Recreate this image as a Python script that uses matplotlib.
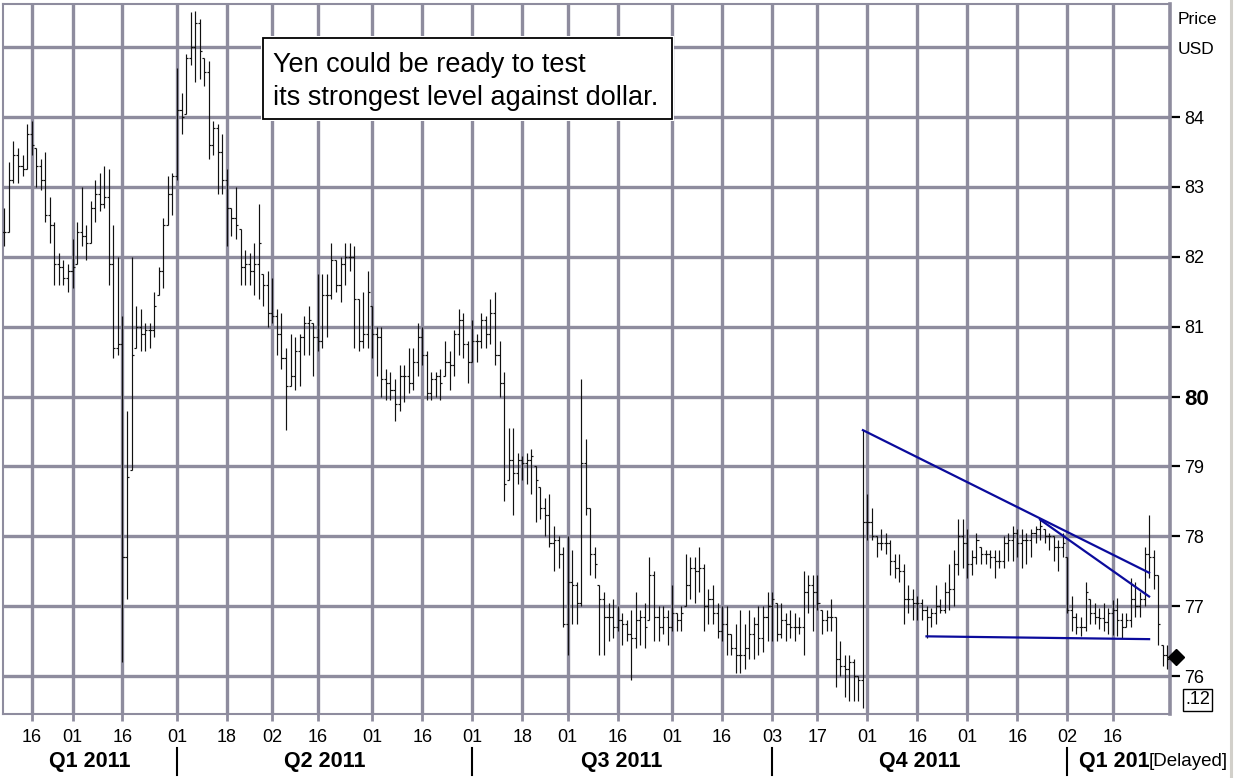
import numpy as np
import pandas as pd
import matplotlib
matplotlib.use('Agg')
import matplotlib.pyplot as plt
from matplotlib.patches import Rectangle
from matplotlib.lines import Line2D
from matplotlib.transforms import blended_transform_factory

plt.rcParams['font.family'] = ['Liberation Sans', 'DejaVu Sans']

W, H = 1239, 778
GRID = '#8e8c9e'
TREND = '#0b0b9c'

# daily USD/JPY bars, one per business day
dates = pd.bdate_range('2011-02-08', '2012-02-01')

close = [
    82.35, 83.10, 83.45, 83.30, 83.25, 83.75, 83.60, 83.30, 83.10, 82.60,
    82.45, 81.90, 81.85, 81.70, 81.80, 81.85, 82.35, 82.30, 82.20, 82.70,
    82.90, 82.75, 82.85, 81.90, 80.70, 80.75, 77.70, 78.85, 80.60, 81.00,
    80.90, 80.95, 80.95, 81.30, 81.80, 82.45, 82.90, 83.15, 84.10, 84.00,
    84.85, 85.00, 85.35, 84.95, 84.65, 83.60, 83.85, 83.50, 83.10, 82.70,
    82.55, 82.45, 81.85, 81.90, 81.80, 81.90, 82.20, 81.60, 81.20, 81.15,
    80.90, 80.55, 80.15, 80.30, 80.65, 80.85, 81.05, 81.10, 80.85, 80.80,
    81.45, 81.45, 81.95, 81.60, 81.90, 82.00, 82.00, 81.40, 80.80, 80.90,
    81.50, 80.90, 80.85, 80.25, 80.20, 80.10, 79.90, 80.30, 80.30, 80.20,
    80.50, 80.85, 80.60, 80.05, 80.25, 80.30, 80.20, 80.50, 80.45, 80.90,
    81.10, 80.75, 80.50, 80.80, 80.80, 81.10, 80.90, 81.20, 80.60, 80.20,
    78.75, 79.10, 78.90, 79.10, 79.05, 79.10, 79.15, 78.80, 78.40, 78.30,
    77.90, 77.95, 77.75, 76.75, 77.35, 77.30, 77.05, 79.05, 78.40, 77.75,
    77.60, 77.10, 76.85, 76.85, 76.70, 76.80, 76.75, 76.60, 76.55, 76.80,
    76.85, 76.70, 77.45, 76.85, 76.70, 76.85, 76.70, 76.90, 76.80, 76.90,
    77.30, 77.55, 77.50, 77.55, 77.00, 77.10, 76.90, 76.65, 76.75, 76.60,
    76.40, 76.30, 76.30, 76.40, 76.60, 76.75, 76.55, 76.85, 77.00, 77.10,
    76.60, 76.80, 76.75, 76.70, 76.70, 76.70, 77.20, 77.30, 77.20, 77.05,
    76.80, 76.85, 76.85, 76.25, 76.15, 76.10, 76.20, 76.00, 75.95, 78.20,
    78.20, 78.00, 77.90, 77.90, 77.90, 77.65, 77.55, 77.50, 77.10, 77.10,
    77.05, 77.05, 76.95, 76.85, 76.90, 77.00, 76.95, 77.20, 77.25, 77.60,
    78.00, 77.90, 77.60, 77.70, 77.95, 77.75, 77.75, 77.70, 77.65, 77.65,
    77.90, 77.95, 78.05, 77.90, 77.95, 77.95, 78.05, 78.10, 78.15, 78.00,
    78.00, 77.85, 77.85, 77.90, 76.95, 76.85, 76.70, 76.70, 77.20, 76.90,
    76.85, 76.83, 76.78, 76.90, 76.95, 76.80, 76.70, 76.80, 77.10, 77.00,
    77.10, 77.75, 77.70, 77.45, 76.75, 76.30, 76.25,
]
high = [
    82.70, 83.35, 83.65, 83.55, 83.45, 83.90, 83.95, 83.55, 83.40, 83.50,
    82.85, 82.50, 82.05, 81.95, 81.90, 82.25, 82.50, 83.00, 82.45, 82.80,
    83.10, 83.20, 83.30, 83.25, 82.45, 82.00, 81.15, 79.80, 82.00, 81.30,
    81.25, 81.05, 81.05, 81.50, 81.85, 82.55, 83.15, 83.20, 84.70, 84.35,
    84.90, 85.50, 85.52, 85.40, 84.85, 84.80, 83.95, 83.90, 83.75, 83.25,
    82.70, 83.00, 82.40, 82.10, 82.05, 82.20, 82.75, 81.75, 81.80, 81.70,
    81.25, 81.20, 80.70, 80.90, 80.85, 80.90, 81.15, 81.30, 81.05, 81.75,
    81.75, 81.75, 82.20, 81.95, 82.00, 82.20, 82.20, 82.15, 81.40, 81.50,
    81.80, 81.30, 81.00, 81.00, 80.40, 80.35, 80.25, 80.45, 80.45, 80.70,
    80.70, 81.05, 81.00, 80.65, 80.35, 80.35, 80.40, 80.80, 80.65, 80.95,
    81.25, 81.20, 80.80, 81.10, 80.90, 81.20, 81.15, 81.40, 81.50, 80.80,
    80.35, 79.55, 79.55, 79.20, 79.15, 79.20, 79.25, 79.00, 78.70, 78.55,
    78.60, 78.15, 78.00, 77.85, 78.00, 77.80, 77.35, 80.25, 79.40, 78.40,
    77.85, 77.30, 77.20, 77.05, 77.10, 77.00, 76.90, 76.80, 76.95, 77.20,
    76.95, 77.05, 77.70, 77.50, 77.00, 77.00, 76.95, 77.30, 76.90, 77.00,
    77.75, 77.70, 77.70, 77.85, 77.60, 77.25, 77.30, 77.05, 77.00, 77.00,
    76.60, 76.75, 76.95, 76.75, 76.95, 76.85, 77.00, 77.00, 77.20, 77.20,
    77.05, 77.05, 76.90, 76.95, 76.90, 76.85, 77.50, 77.45, 77.45, 77.45,
    76.95, 76.95, 77.10, 76.85, 76.50, 76.30, 76.30, 76.25, 76.00, 79.52,
    78.60, 78.40, 78.00, 78.10, 78.05, 77.95, 77.75, 77.75, 77.60, 77.30,
    77.25, 77.15, 77.10, 77.00, 76.97, 77.30, 77.10, 77.35, 77.60, 77.80,
    78.25, 78.25, 78.10, 77.80, 78.05, 77.85, 77.80, 77.80, 77.80, 77.80,
    78.00, 78.05, 78.15, 78.10, 78.10, 78.05, 78.10, 78.15, 78.25, 78.10,
    78.05, 78.00, 77.95, 78.05, 77.70, 77.15, 76.90, 76.85, 77.35, 77.10,
    77.05, 76.97, 77.04, 76.97, 77.09, 77.12, 76.90, 76.90, 77.40, 77.35,
    77.20, 77.85, 78.30, 77.80, 77.45, 76.45, 76.45,
]
low = [
    82.15, 82.35, 83.05, 83.05, 83.15, 83.25, 83.45, 83.00, 82.95, 82.50,
    82.20, 81.60, 81.60, 81.60, 81.50, 81.55, 81.90, 82.15, 81.95, 82.20,
    82.50, 82.65, 82.70, 81.60, 80.55, 80.60, 76.20, 77.10, 78.95, 80.70,
    80.65, 80.65, 80.70, 80.85, 81.45, 81.55, 82.45, 82.60, 83.10, 83.75,
    84.05, 84.75, 84.50, 84.55, 84.45, 83.40, 83.45, 82.90, 82.90, 82.15,
    82.30, 82.25, 81.60, 81.60, 81.60, 81.45, 81.40, 81.30, 81.00, 81.05,
    80.60, 80.40, 79.52, 80.15, 80.10, 80.15, 80.60, 80.60, 80.30, 80.65,
    80.70, 80.85, 81.40, 81.50, 81.35, 81.60, 81.80, 80.70, 80.65, 80.70,
    80.70, 80.55, 80.30, 80.00, 79.95, 79.95, 79.65, 79.80, 79.92, 80.05,
    80.10, 80.30, 80.45, 79.95, 79.95, 80.00, 79.95, 80.30, 80.10, 80.30,
    80.60, 80.55, 80.20, 80.50, 80.50, 80.70, 80.70, 80.75, 80.45, 80.00,
    78.50, 78.80, 78.30, 78.75, 78.80, 78.75, 78.60, 78.20, 78.25, 78.00,
    77.85, 77.50, 77.55, 76.70, 76.30, 76.75, 76.75, 77.00, 78.30, 77.45,
    77.40, 76.30, 76.30, 76.50, 76.55, 76.65, 76.45, 76.50, 75.95, 76.40,
    76.45, 76.40, 76.80, 76.50, 76.50, 76.60, 76.45, 76.65, 76.65, 76.65,
    77.00, 77.10, 77.05, 77.20, 76.65, 76.75, 76.75, 76.55, 76.50, 76.30,
    76.30, 76.05, 76.05, 76.10, 76.25, 76.25, 76.30, 76.35, 76.50, 76.50,
    76.50, 76.55, 76.50, 76.55, 76.50, 76.60, 76.30, 76.90, 76.65, 76.95,
    76.60, 76.65, 76.65, 75.85, 76.00, 75.70, 75.65, 75.65, 75.65, 75.55,
    77.95, 77.95, 77.70, 77.80, 77.75, 77.45, 77.40, 77.35, 76.75, 76.90,
    76.80, 76.80, 76.80, 76.55, 76.70, 76.75, 76.90, 76.90, 76.95, 77.00,
    77.45, 77.55, 77.40, 77.45, 77.60, 77.60, 77.60, 77.55, 77.40, 77.55,
    77.55, 77.65, 77.65, 77.70, 77.55, 77.60, 77.70, 77.90, 77.95, 77.90,
    77.80, 77.65, 77.50, 77.70, 76.90, 76.65, 76.60, 76.57, 76.65, 76.75,
    76.75, 76.68, 76.64, 76.60, 76.59, 76.57, 76.55, 76.70, 76.70, 76.85,
    76.85, 77.00, 77.40, 77.25, 76.45, 76.15, 76.10,
]

tick_dates = ['2011-02-16', '2011-03-01', '2011-03-16', '2011-04-01', '2011-04-18',
              '2011-05-02', '2011-05-16', '2011-06-01', '2011-06-16', '2011-07-01',
              '2011-07-18', '2011-08-01', '2011-08-16', '2011-09-01', '2011-09-16',
              '2011-10-03', '2011-10-17', '2011-11-01', '2011-11-16', '2011-12-01',
              '2011-12-16', '2012-01-02', '2012-01-16']
quarter_starts = ['2011-04-01', '2011-07-01', '2011-10-03', '2012-01-02']
quarter_names = ['Q1 2011', 'Q2 2011', 'Q3 2011', 'Q4 2011']
price_levels = [76, 77, 78, 79, 80, 81, 82, 83, 84]

# hand-drawn trend lines: (start date, start price, end date, end price)
trend_lines = [
    ('2011-10-31', 79.52, '2012-01-26', 77.48),
    ('2011-12-23', 78.24, '2012-01-26', 77.14),
    ('2011-11-18', 76.57, '2012-01-26', 76.53),
]
last_price = 76.27


def pos(d):
    return dates.get_loc(pd.Timestamp(d))


idx = np.arange(len(dates))
close = np.array(close)
high = np.array(high)
low = np.array(low)
opens = np.clip(np.r_[close[0], close[:-1]], low, high)

fig = plt.figure(figsize=(W / 100, H / 100), dpi=100)
fig.patch.set_facecolor('white')
ax = fig.add_axes([3 / W, 1 - 714 / H, 1167 / W, 710 / H])
ax.set_xlim(-0.3, 256.6)
ax.set_ylim(75.459, 85.617)

tick_idx = [pos(d) for d in tick_dates]
for y in range(76, 86):
    ax.axhline(y, color=GRID, lw=2.4, zorder=0)
for x in tick_idx:
    ax.axvline(x, color=GRID, lw=2.4, zorder=0)

# OHLC bars
bar_kw = dict(color='#111111', lw=0.85, zorder=3)
ax.vlines(idx, low, high, **bar_kw)
ax.hlines(opens, idx - 0.45, idx, **bar_kw)
ax.hlines(close, idx, idx + 0.45, **bar_kw)

for d0, p0, d1, p1 in trend_lines:
    ax.plot([pos(d0), pos(d1)], [p0, p1], color=TREND, lw=1.6, zorder=4)

ax.plot([258], [last_price], marker='D', ms=8, color='black', clip_on=False, zorder=5)

for side in ['left', 'top', 'bottom']:
    ax.spines[side].set_color(GRID)
    ax.spines[side].set_linewidth(1.5)
ax.spines['right'].set_color(GRID)
ax.spines['right'].set_linewidth(2.6)

ax.set_xticks(tick_idx)
ax.set_xticklabels([pd.Timestamp(d).strftime('%d') for d in tick_dates])
ax.tick_params(axis='x', length=5, width=2, color=GRID, labelsize=13, pad=6)

ax.yaxis.tick_right()
ax.set_yticks(price_levels)
ax.set_yticklabels([str(p) for p in price_levels])
ax.tick_params(axis='y', length=7, width=1.6, color='black', labelsize=13, pad=3)
for lab in ax.get_yticklabels():
    if lab.get_text() == '80':
        lab.set_fontweight('bold')
        lab.set_fontsize(16)

# quarter labels and separators under the date axis
below = blended_transform_factory(ax.transData, fig.transFigure)
q_idx = [pos(d) for d in quarter_starts]
for q in q_idx:
    ax.add_line(Line2D([q, q], [1 - 748 / H, 1 - 775 / H], transform=below,
                       color='black', lw=1.5, clip_on=False))
q_y = 1 - 761 / H
edges = [ax.get_xlim()[0]] + q_idx
for name, a, b in zip(quarter_names, edges[:-1], edges[1:]):
    ax.text((a + b) / 2, q_y, name, transform=below, ha='center',
            va='center', fontsize=15.5, fontweight='bold')
fig.text(1079 / W, q_y, 'Q1 201', ha='left', va='center',
         fontsize=15.5, fontweight='bold')
fig.text(1149 / W, q_y, '[Delayed]', ha='left', va='center', fontsize=13.5)

fig.text(1178 / W, 1 - 20 / H, 'Price', ha='left', va='center', fontsize=12.5)
fig.text(1178 / W, 1 - 49 / H, 'USD', ha='left', va='center', fontsize=12.5)
fig.text(1185 / W, 1 - 700 / H, '.12', ha='left', va='center', fontsize=13,
         bbox=dict(boxstyle='square,pad=0.12', fc='white', ec='black', lw=1.0))

# headline box
fig.add_artist(Rectangle((261 / W, 1 - 121 / H), 413 / W, 85 / H,
                         transform=fig.transFigure, fc='white', ec='none', zorder=6))
fig.add_artist(Rectangle((263 / W, 1 - 119 / H), 409 / W, 81 / H,
                         transform=fig.transFigure, fc='white', ec='black', lw=1.3, zorder=7))
fig.text(273 / W, 1 - 72 / H, 'Yen could be ready to test', ha='left',
         va='baseline', fontsize=19.5, zorder=8)
fig.text(273 / W, 1 - 105 / H, 'its strongest level against dollar.', ha='left',
         va='baseline', fontsize=19.5, zorder=8)

fig.add_artist(Line2D([1231 / W, 1231 / W], [0, 1], transform=fig.transFigure,
                      color='#d2d0ca', lw=2.2))

fig.savefig('out.png', dpi=100)
